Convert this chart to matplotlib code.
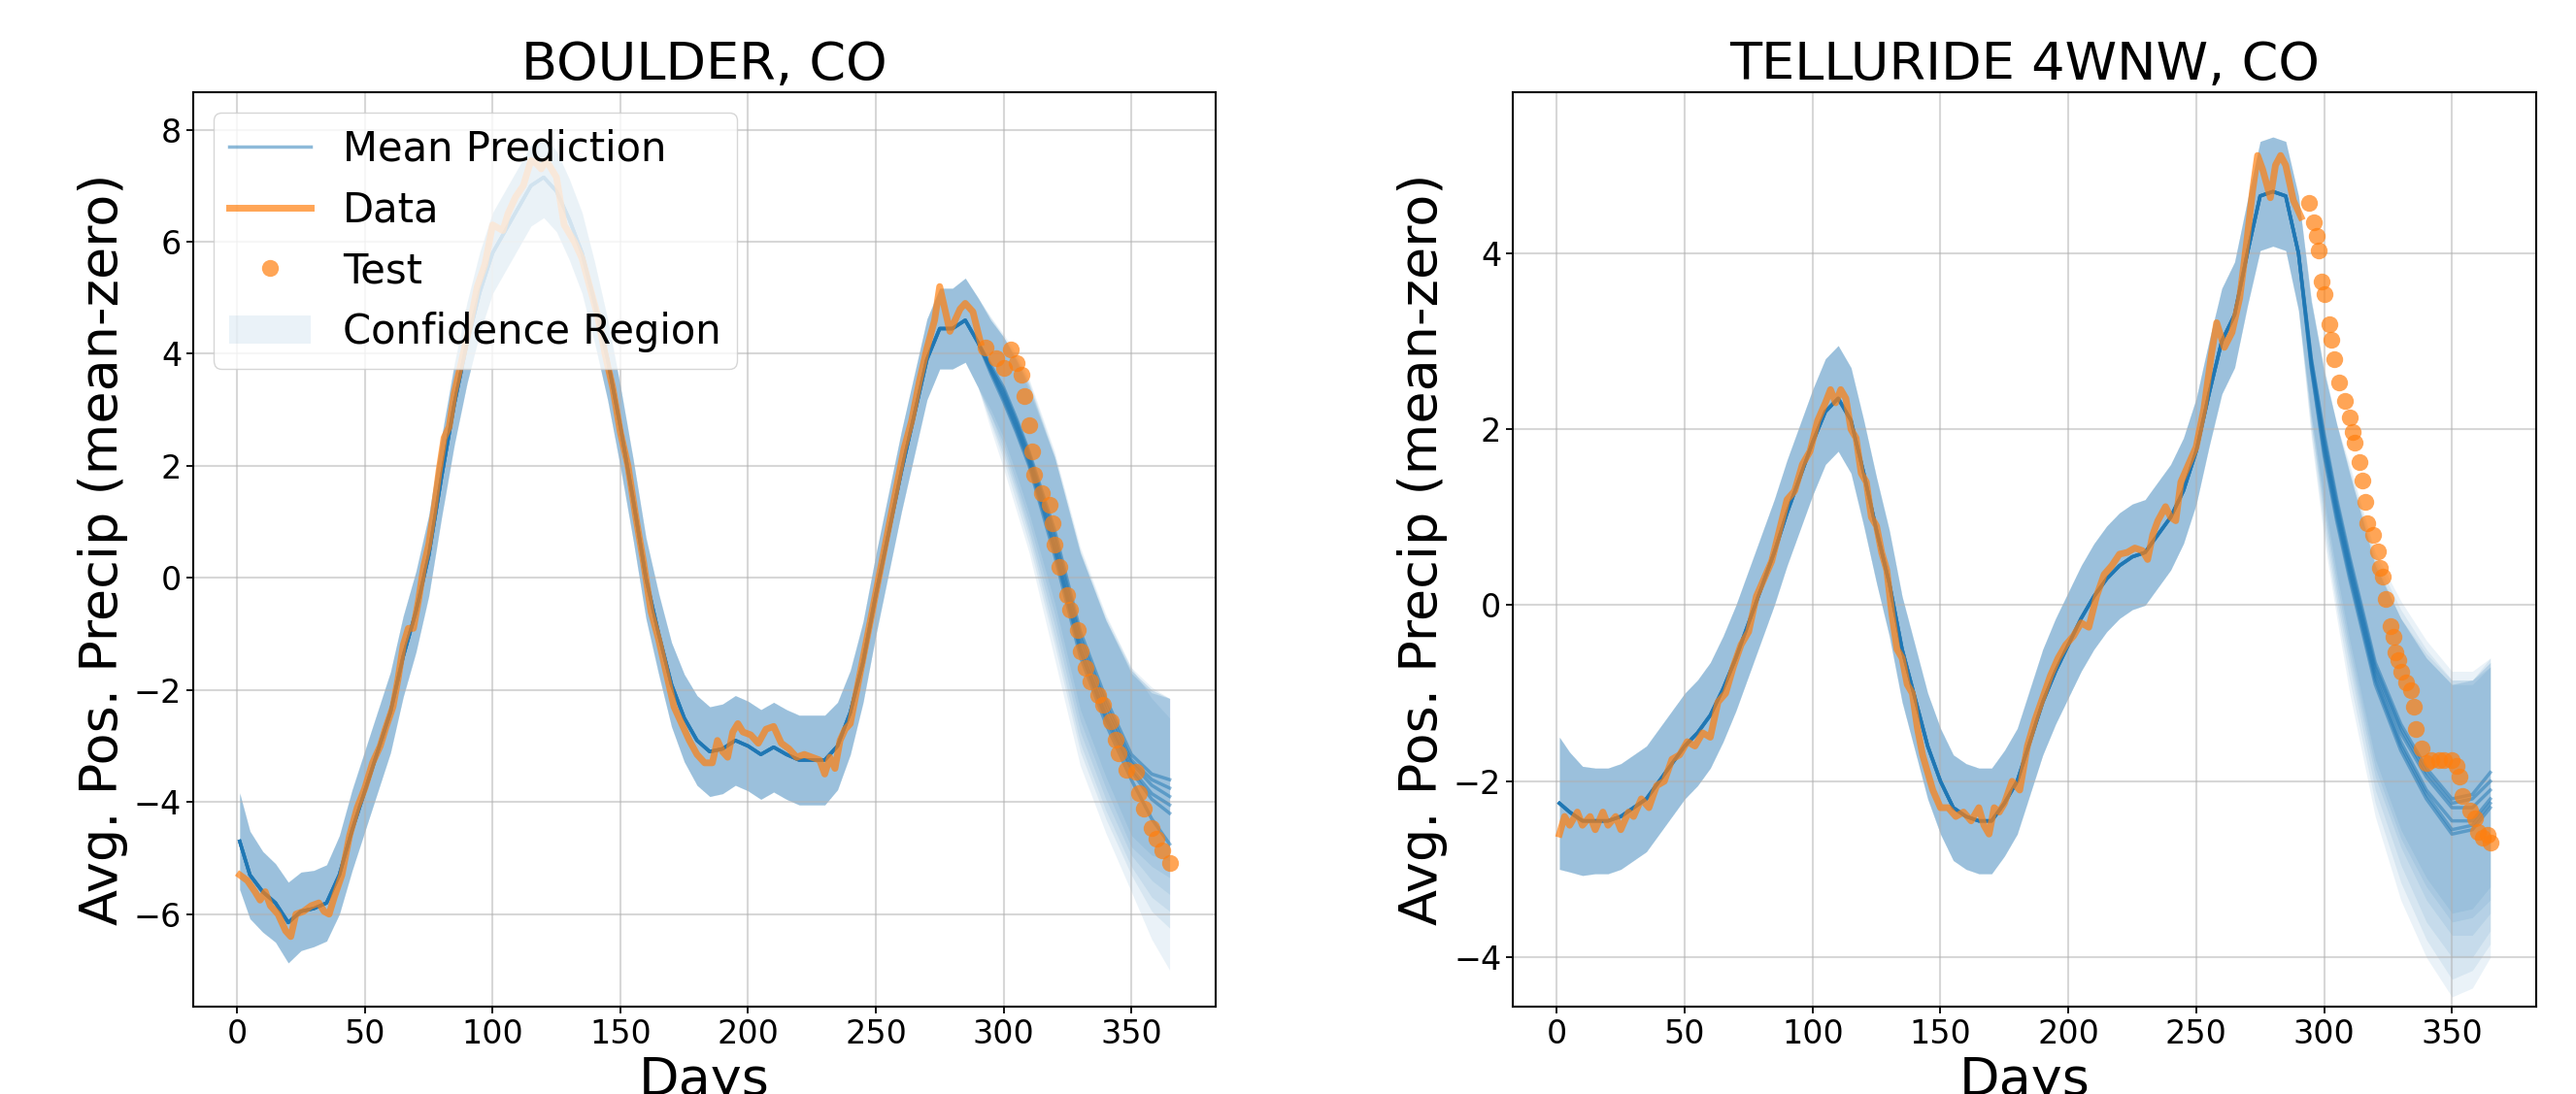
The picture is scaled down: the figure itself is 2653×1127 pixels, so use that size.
import numpy as np
import matplotlib.pyplot as plt

# ---------------- BOULDER, CO ----------------
boulder_days = [1, 4, 7, 9, 11, 13, 16, 19, 21, 23, 26, 29, 32, 34, 36, 38, 41, 44, 47, 50,
                53, 56, 58, 61, 63, 65, 67, 69, 71, 73, 75, 77, 79, 81, 83, 85, 88, 91, 94, 97,
                100, 104, 106, 109, 112, 115, 117, 119, 121, 123, 125, 128, 132, 135, 138, 141,
                144, 147, 150, 153, 156, 159, 162, 165, 168, 171, 174, 177, 180, 183, 186, 188,
                190, 192, 194, 196, 198, 201, 204, 207, 210, 213, 216, 219, 222, 225, 228, 230,
                232, 234, 236, 238, 240, 243, 246, 249, 252, 255, 258, 261, 264, 267, 270, 273,
                275, 277, 279, 281, 283, 285, 288, 291]
boulder_data = [-5.3, -5.4, -5.6, -5.75, -5.6, -5.85, -6.0, -6.3, -6.4, -6.0, -5.95, -5.85, -5.8,
                -5.95, -6.0, -5.7, -5.3, -4.6, -4.1, -3.75, -3.3, -3.0, -2.7, -2.3, -1.8, -1.2,
                -0.9, -0.9, -0.4, 0.2, 0.6, 1.2, 1.9, 2.5, 2.7, 3.3, 3.9, 4.5, 5.2, 5.6,
                6.3, 6.2, 6.5, 6.8, 7.0, 7.45, 7.4, 7.3, 7.45, 7.3, 7.15, 6.3, 6.0, 5.7, 5.2, 4.7,
                4.0, 3.4, 2.6, 2.0, 1.1, 0.3, -0.6, -1.1, -1.7, -2.3, -2.6, -2.9, -3.15, -3.3,
                -3.3, -2.9, -3.1, -3.2, -2.75, -2.6, -2.75, -2.8, -2.95, -2.7, -2.65, -2.95, -3.05,
                -3.2, -3.15, -3.2, -3.25, -3.5, -3.2, -3.4, -2.9, -2.7, -2.6, -1.9, -1.2, -0.5,
                0.2, 0.9, 1.6, 2.3, 2.8, 3.5, 4.1, 4.6, 5.2, 4.8, 4.4, 4.6, 4.8, 4.9, 4.75, 4.2]

boulder_test_days = [293, 297, 300, 303, 305, 307, 308, 310, 311, 312, 315, 318, 319, 320, 322,
                     325, 326, 329, 330, 332, 334, 337, 339, 342, 344, 345, 348, 352, 353, 355,
                     358, 360, 362, 365]
boulder_test = [4.12, 3.92, 3.75, 4.08, 3.83, 3.63, 3.25, 2.73, 2.26, 1.84, 1.51, 1.30, 0.97,
                0.60, 0.19, -0.31, -0.56, -0.93, -1.31, -1.60, -1.85, -2.09, -2.26, -2.55,
                -2.88, -3.13, -3.42, -3.46, -3.84, -4.12, -4.46, -4.66, -4.87, -5.08]

# GP fit on the training span (same for every run)
fit_days = [1, 5, 10, 15, 20, 25, 30, 35, 40, 45, 50, 55, 60, 65, 70, 75, 80, 85, 90, 95, 100,
            105, 110, 115, 120, 125, 130, 135, 140, 145, 150, 155, 160, 165, 170, 175, 180, 185,
            190, 195, 200, 205, 210, 215, 220, 225, 230, 235, 240, 245, 250, 255, 260, 265, 270,
            275, 280, 285, 290]
boulder_fit_mean = [-4.7, -5.3, -5.6, -5.8, -6.15, -5.95, -5.9, -5.8, -5.3, -4.5, -3.8, -3.1,
                    -2.4, -1.4, -0.6, 0.4, 1.8, 3.1, 4.2, 5.1, 5.8, 6.2, 6.6, 7.0, 7.15, 6.9,
                    6.4, 5.8, 4.9, 3.9, 2.7, 1.4, 0.0, -1.0, -1.9, -2.5, -2.9, -3.1, -3.05, -2.9,
                    -3.0, -3.15, -3.02, -3.15, -3.25, -3.25, -3.25, -3.0, -2.4, -1.5, -0.3, 0.8,
                    1.9, 2.9, 3.9, 4.45, 4.45, 4.6, 4.2]
boulder_fit_hw = [0.86, 0.78, 0.72, 0.7, 0.72, 0.7, 0.68, 0.68, 0.7, 0.72, 0.72, 0.72, 0.72,
                  0.72, 0.72, 0.72, 0.72, 0.72, 0.72, 0.72, 0.72, 0.72, 0.72, 0.72, 0.72, 0.72,
                  0.72, 0.72, 0.72, 0.72, 0.72, 0.72, 0.72, 0.72, 0.75, 0.78, 0.8, 0.8, 0.8,
                  0.8, 0.8, 0.8, 0.8, 0.8, 0.8, 0.8, 0.8, 0.78, 0.75, 0.72, 0.72, 0.72, 0.72,
                  0.72, 0.72, 0.72, 0.72, 0.75, 0.8]

# forecast span, one row per run
ext_days = [295, 300, 305, 310, 320, 330, 340, 350, 358, 365]
boulder_ext_mean = [
    [3.8, 3.4, 2.85, 2.25, 0.85, -0.95, -2.15, -3.15, -3.5, -3.6],
    [3.75, 3.35, 2.8, 2.2, 0.75, -1.05, -2.25, -3.25, -3.6, -3.75],
    [3.75, 3.3, 2.75, 2.15, 0.65, -1.15, -2.35, -3.3, -3.7, -3.9],
    [3.7, 3.25, 2.7, 2.1, 0.55, -1.25, -2.45, -3.4, -3.85, -4.05],
    [3.7, 3.2, 2.65, 2.05, 0.5, -1.3, -2.5, -3.45, -3.95, -4.2],
    [3.65, 3.15, 2.6, 2.0, 0.4, -1.4, -2.6, -3.6, -4.3, -4.75],
]
boulder_ext_hw = [
    [0.8, 0.9, 1.0, 1.1, 1.3, 1.4, 1.4, 1.45, 1.45, 1.45],
    [0.85, 0.95, 1.1, 1.2, 1.4, 1.5, 1.5, 1.55, 1.55, 1.6],
    [0.85, 1.0, 1.15, 1.3, 1.5, 1.6, 1.6, 1.65, 1.7, 1.75],
    [0.9, 1.05, 1.2, 1.35, 1.6, 1.7, 1.7, 1.75, 1.85, 1.9],
    [0.95, 1.1, 1.3, 1.45, 1.7, 1.8, 1.8, 1.85, 2.0, 2.05],
    [1.0, 1.2, 1.4, 1.55, 1.85, 1.95, 1.95, 2.0, 2.15, 2.25],
]

# ---------------- TELLURIDE 4WNW, CO ----------------
telluride_days = [1, 3, 5, 8, 10, 13, 15, 18, 20, 23, 25, 28, 30, 33, 36, 39, 42, 45, 48, 51,
                  54, 57, 60, 63, 66, 69, 72, 75, 78, 81, 84, 87, 90, 93, 96, 99, 102, 105, 107,
                  109, 111, 113, 115, 117, 119, 121, 123, 125, 127, 129, 131, 133, 135, 137, 139,
                  141, 143, 145, 147, 150, 153, 156, 159, 162, 165, 167, 169, 171, 173, 175, 178,
                  181, 184, 187, 190, 193, 196, 199, 202, 205, 208, 211, 214, 217, 220, 223, 226,
                  229, 231, 233, 235, 238, 240, 242, 244, 247, 250, 253, 256, 258, 261, 264, 267,
                  270, 272, 274, 276, 279, 281, 283, 285, 288, 291]
telluride_data = [-2.6, -2.4, -2.5, -2.35, -2.5, -2.4, -2.55, -2.35, -2.5, -2.4, -2.55, -2.35,
                  -2.4, -2.2, -2.3, -2.05, -2.0, -1.75, -1.7, -1.55, -1.6, -1.45, -1.5, -1.1,
                  -1.0, -0.7, -0.45, -0.3, 0.1, 0.3, 0.5, 0.85, 1.2, 1.3, 1.6, 1.75, 2.1, 2.3,
                  2.45, 2.3, 2.45, 2.35, 2.0, 1.9, 1.5, 1.4, 1.0, 0.9, 0.6, 0.4, -0.1, -0.5,
                  -0.6, -0.9, -1.0, -1.4, -1.7, -1.9, -2.1, -2.3, -2.3, -2.4, -2.35, -2.45, -2.3,
                  -2.5, -2.6, -2.3, -2.35, -2.25, -2.0, -2.1, -1.6, -1.3, -1.05, -0.8, -0.6,
                  -0.45, -0.35, -0.2, -0.25, 0.1, 0.35, 0.45, 0.58, 0.6, 0.65, 0.62, 0.52, 0.8,
                  0.96, 1.12, 1.0, 0.96, 1.4, 1.6, 1.8, 2.23, 2.86, 3.21, 2.93, 3.1, 3.49, 4.19,
                  4.7, 5.11, 4.95, 4.63, 5.0, 5.11, 5.0, 4.6, 4.41]

telluride_test_days = [294, 296, 297, 298, 299, 300, 302, 303, 304, 306, 308, 310, 311, 312,
                       314, 315, 316, 317, 319, 321, 322, 323, 324, 326, 327, 328, 329, 330,
                       332, 334, 335, 336, 338, 340, 342, 345, 347, 350, 352, 353, 354, 357,
                       359, 360, 362, 364, 365]
telluride_test = [4.57, 4.35, 4.20, 4.03, 3.68, 3.54, 3.19, 3.02, 2.80, 2.53, 2.32, 2.13, 1.97,
                  1.85, 1.63, 1.42, 1.18, 0.93, 0.80, 0.61, 0.42, 0.32, 0.07, -0.24, -0.36,
                  -0.53, -0.62, -0.75, -0.88, -0.97, -1.15, -1.41, -1.63, -1.79, -1.76, -1.76,
                  -1.76, -1.76, -1.82, -1.95, -2.17, -2.33, -2.42, -2.58, -2.64, -2.61, -2.70]

telluride_fit_mean = [-2.25, -2.35, -2.45, -2.45, -2.45, -2.4, -2.3, -2.2, -2.0, -1.8, -1.6,
                      -1.45, -1.25, -0.95, -0.6, -0.2, 0.2, 0.6, 1.05, 1.45, 1.85, 2.2, 2.35,
                      2.1, 1.5, 0.85, 0.25, -0.5, -1.05, -1.6, -2.0, -2.3, -2.4, -2.45, -2.45,
                      -2.25, -2.0, -1.55, -1.1, -0.75, -0.45, -0.15, 0.1, 0.3, 0.45, 0.55, 0.6,
                      0.8, 1.0, 1.3, 1.75, 2.4, 3.0, 3.3, 4.0, 4.65, 4.7, 4.65, 4.0]
telluride_fit_hw = [0.75, 0.68, 0.62, 0.6, 0.6, 0.6, 0.6, 0.6, 0.6, 0.6, 0.6, 0.6, 0.6, 0.6,
                    0.6, 0.6, 0.6, 0.6, 0.6, 0.6, 0.6, 0.6, 0.6, 0.6, 0.6, 0.6, 0.6, 0.6,
                    0.6, 0.6, 0.6, 0.6, 0.6, 0.6, 0.6, 0.6, 0.6, 0.6, 0.6, 0.6, 0.6, 0.6,
                    0.6, 0.6, 0.6, 0.6, 0.6, 0.6, 0.6, 0.6, 0.6, 0.6, 0.6, 0.6, 0.6, 0.62,
                    0.62, 0.62, 0.65]
telluride_ext_mean = [
    [2.8, 1.95, 1.2, 0.55, -0.65, -1.35, -1.85, -2.2, -2.15, -1.9],
    [2.8, 1.9, 1.15, 0.5, -0.7, -1.4, -1.9, -2.25, -2.2, -2.0],
    [2.75, 1.85, 1.1, 0.45, -0.75, -1.45, -1.95, -2.3, -2.3, -2.1],
    [2.75, 1.8, 1.05, 0.4, -0.8, -1.55, -2.1, -2.45, -2.45, -2.2],
    [2.7, 1.75, 1.0, 0.35, -0.85, -1.6, -2.15, -2.55, -2.5, -2.25],
    [2.7, 1.7, 0.95, 0.3, -0.9, -1.65, -2.2, -2.6, -2.55, -2.3],
]
telluride_ext_hw = [
    [0.65, 0.75, 0.85, 0.95, 1.1, 1.2, 1.25, 1.3, 1.3, 1.3],
    [0.65, 0.8, 0.9, 1.0, 1.15, 1.25, 1.3, 1.35, 1.35, 1.35],
    [0.7, 0.8, 0.95, 1.05, 1.2, 1.3, 1.4, 1.45, 1.45, 1.4],
    [0.7, 0.85, 1.0, 1.1, 1.3, 1.4, 1.5, 1.55, 1.55, 1.5],
    [0.75, 0.9, 1.05, 1.2, 1.4, 1.55, 1.65, 1.7, 1.65, 1.6],
    [0.8, 0.95, 1.1, 1.3, 1.5, 1.7, 1.8, 1.85, 1.8, 1.7],
]

x_ticks = [0, 50, 100, 150, 200, 250, 300, 350]


def draw(ax, title, days, data, tdays, tvals, fmean, fhw, emean, ehw, ylim, yticks, legend):
    handles = {}
    for k in range(len(emean)):
        d = np.array(fit_days + ext_days)
        m = np.array(fmean + emean[k])
        h = np.array(fhw + ehw[k])
        band = ax.fill_between(d, m - h, m + h, color='tab:blue', alpha=0.09, lw=0, zorder=1)
        ln, = ax.plot(d, m, color='tab:blue', alpha=0.5, lw=2.5, zorder=2)
        if k == 0:
            handles['band'] = band
            handles['mean'] = ln
    dl, = ax.plot(days, data, color='tab:orange', alpha=0.7, lw=5, zorder=3)
    tl, = ax.plot(tdays, tvals, 'o', color='tab:orange', alpha=0.7, ms=12.5, mew=0, zorder=4)

    ax.set_xlim(-17.2, 383)
    ax.set_ylim(*ylim)
    ax.set_xticks(x_ticks)
    ax.set_yticks(yticks)
    ax.grid(True, color='#b0b0b0', alpha=0.5, lw=1.5)
    ax.tick_params(labelsize=24, length=5, width=1.3)
    for s in ax.spines.values():
        s.set_linewidth(1.5)
    ax.set_title(title, fontsize=39, pad=9)
    ax.set_xlabel('Days', fontsize=39)
    ax.set_ylabel('Avg. Pos. Precip (mean-zero)', fontsize=39)
    if legend:
        ax.legend([handles['mean'], dl, tl, handles['band']],
                  ['Mean Prediction', 'Data', 'Test', 'Confidence Region'],
                  loc='upper left', fontsize=30)


fig = plt.figure(figsize=(26.53, 11.27), dpi=100)
ax1 = fig.add_axes([0.0750, 0.0799, 0.3969, 0.8359])
ax2 = fig.add_axes([0.5873, 0.0799, 0.3973, 0.8359])

draw(ax1, 'BOULDER, CO', boulder_days, boulder_data, boulder_test_days, boulder_test,
     boulder_fit_mean, boulder_fit_hw, boulder_ext_mean, boulder_ext_hw,
     (-7.65, 8.67), [-6, -4, -2, 0, 2, 4, 6, 8], True)
draw(ax2, 'TELLURIDE 4WNW, CO', telluride_days, telluride_data, telluride_test_days,
     telluride_test, telluride_fit_mean, telluride_fit_hw, telluride_ext_mean,
     telluride_ext_hw, (-4.56, 5.83), [-4, -2, 0, 2, 4], False)

fig.savefig('out.png', dpi=100)
